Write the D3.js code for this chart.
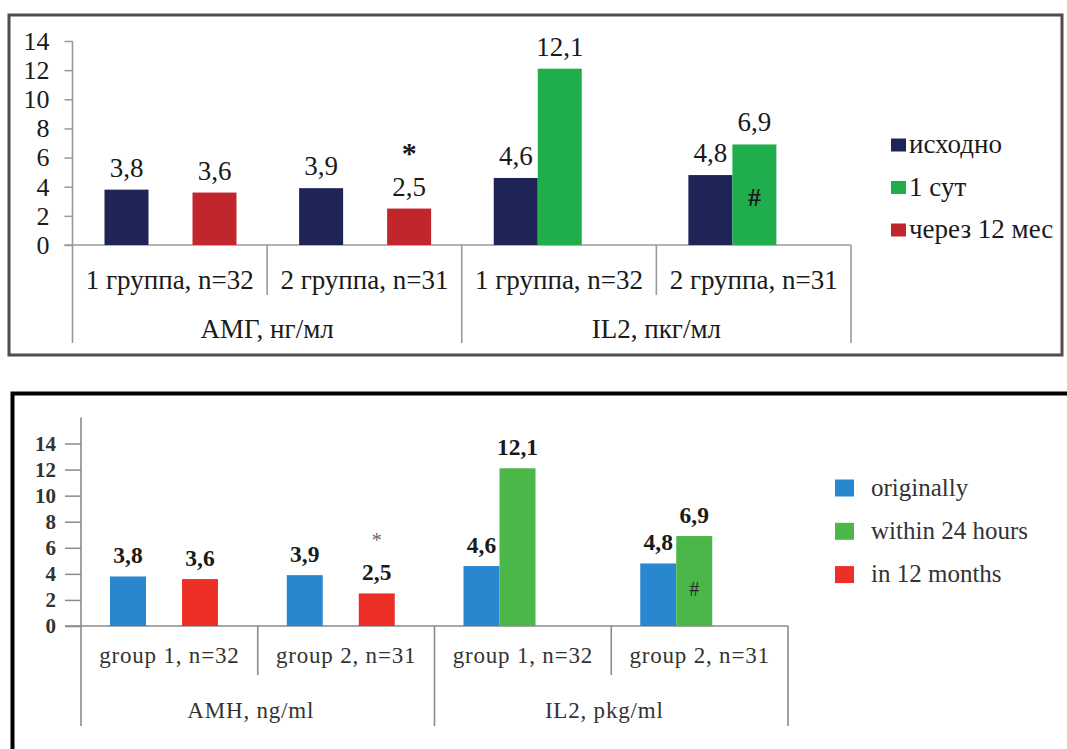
<!DOCTYPE html>
<html><head><meta charset="utf-8">
<script src="https://cdn.jsdelivr.net/npm/d3@7"></script>
</head><body style="margin:0;background:#fff">
<svg id="c" width="1067" height="749" style="display:block;font-family:'Liberation Serif'"></svg>
<script>
// ---------- data ----------
const categoriesRu = ["1 группа, n=32", "2 группа, n=31", "1 группа, n=32", "2 группа, n=31"];
const groupsRu = ["АМГ, нг/мл", "IL2, пкг/мл"];
const seriesRu = ["исходно", "1 сут", "через 12 мес"];
const categoriesEn = ["group 1, n=32", "group 2, n=31", "group 1, n=32", "group 2, n=31"];
const groupsEn = ["AMH, ng/ml", "IL2, pkg/ml"];
const seriesEn = ["originally", "within 24 hours", "in 12 months"];
const valuesBaseline = [3.8, 3.9, 4.6, 4.8];
const values24h = [null, null, 12.1, 6.9];
const values12m = [3.6, 2.5, null, null];
const yTicks = [0, 2, 4, 6, 8, 10, 12, 14];
const starMark = {category: 1, series: 2, text: "*"};
const hashMark = {category: 3, series: 1, text: "#"};

const seriesValues = [valuesBaseline, values24h, values12m];
const fmt = v => d3.format(".1f")(v).replace(".", ",");
const svg = d3.select("#c");
const SERIF = "Liberation Serif";

function txt(sel) { return sel.style("font-family", SERIF); }

function draw(o) {
  const g = svg.append("g");
  // frame
  g.append("rect").attr("x", o.frame[0]).attr("y", o.frame[1])
    .attr("width", o.frame[2]).attr("height", o.frame[3])
    .attr("fill", "none").attr("stroke", o.frameColor).attr("stroke-width", o.frameWidth);

  const x = d3.scaleBand().domain(d3.range(o.categories.length)).range([o.x0, o.x1]);
  const xi = d3.scaleBand().domain(d3.range(3)).range(o.inner);
  const y = d3.scaleLinear().domain([0, 14]).range([o.y0, o.y14]);

  // y axis
  const ax = g.append("g").attr("transform", `translate(${o.x0},0)`)
    .call(d3.axisLeft(y).tickValues(yTicks).tickSize(o.tickLen).tickSizeOuter(0).tickPadding(o.tickPad));
  ax.attr("font-family", null).attr("font-size", null);
  ax.select(".domain").remove();
  ax.selectAll(".tick line").attr("stroke", o.axisColor).attr("stroke-width", 1.5);
  txt(ax.selectAll(".tick text")).attr("font-size", o.tickFont)
    .attr("font-weight", o.tickWeight).attr("fill", o.textColor);

  const line = (x1, y1, x2, y2) => g.append("line").attr("x1", x1).attr("y1", y1)
    .attr("x2", x2).attr("y2", y2).attr("stroke", o.axisColor).attr("stroke-width", 1.6);
  line(o.x0, y(o.yAxisTop), o.x0, o.longEnd);
  line(o.x0 - o.tickLen, o.y0, o.x1, o.y0);
  o.categories.forEach((c, i) => {
    if (i === 0) return;
    line(x(i), o.y0, x(i), i % 2 === 0 ? o.longEnd : o.shortEnd);
  });
  line(o.x1, o.y0, o.x1, o.longEnd);

  // category labels
  txt(g.selectAll(".cat").data(o.categories).join("text"))
    .attr("x", (d, i) => x(i) + x.bandwidth() / 2).attr("y", o.catY)
    .attr("text-anchor", "middle").attr("font-size", o.catFont)
    .attr("letter-spacing", o.catSpacing).attr("fill", o.textColor).text(d => d);
  txt(g.selectAll(".grp").data(o.groups).join("text"))
    .attr("x", (d, i) => x(2 * i) + x.bandwidth() + o.grpDx).attr("y", o.grpY)
    .attr("text-anchor", "middle").attr("font-size", o.catFont)
    .attr("letter-spacing", o.catSpacing).attr("fill", o.textColor).text(d => d);

  // bars
  const bars = [];
  seriesValues.forEach((vals, s) => vals.forEach((v, c) => { if (v != null) bars.push({s, c, v}); }));
  g.selectAll(".bar").data(bars).join("rect")
    .attr("x", d => x(d.c) + xi(d.s)).attr("width", xi.bandwidth())
    .attr("y", d => y(d.v)).attr("height", d => y(0) - y(d.v))
    .attr("fill", d => o.colors[d.s]);
  txt(g.selectAll(".val").data(bars).join("text"))
    .attr("x", d => x(d.c) + xi(d.s) + xi.bandwidth() / 2)
    .attr("y", d => y(d.v) - o.labelGap)
    .attr("text-anchor", "middle").attr("font-size", o.valFont).attr("font-weight", o.valWeight)
    .attr("fill", o.valColor).text(d => fmt(d.v));

  // significance marks
  const vs = seriesValues[starMark.series][starMark.category];
  txt(g.append("text")).attr("x", x(starMark.category) + xi(starMark.series) + xi.bandwidth() / 2)
    .attr("y", y(vs) - o.starGap).attr("text-anchor", "middle").attr("font-size", o.starFont)
    .attr("font-weight", o.starWeight).attr("fill", o.starColor).text(starMark.text);
  const vh = seriesValues[hashMark.series][hashMark.category];
  txt(g.append("text")).attr("x", x(hashMark.category) + xi(hashMark.series) + xi.bandwidth() / 2)
    .attr("y", (y(vh) + y(0)) / 2 + o.hashDy).attr("text-anchor", "middle").attr("font-size", o.hashFont)
    .attr("font-weight", o.hashWeight).attr("fill", o.hashColor).text(hashMark.text);

  // legend
  const lg = g.append("g");
  o.series.forEach((name, i) => {
    const cy = o.legY + i * o.legStep;
    lg.append("rect").attr("x", o.legX).attr("y", cy - o.legSq[1] / 2)
      .attr("width", o.legSq[0]).attr("height", o.legSq[1]).attr("fill", o.colors[i]);
    txt(lg.append("text")).attr("x", o.legTextX).attr("y", cy + o.legFont * 0.3)
      .attr("font-size", o.legFont).attr("fill", o.textColor).text(name);
  });
}

draw({
  frame: [9, 15, 1053, 340], frameColor: "#4d4d4d", frameWidth: 3,
  categories: categoriesRu, groups: groupsRu, series: seriesRu,
  colors: ["#1f2457", "#1fae4b", "#c1262d"],
  x0: 72.5, x1: 851, y0: 245, y14: 41, yAxisTop: 14, inner: [32, 164],
  tickLen: 8, tickPad: 15, tickFont: 26, tickWeight: "normal",
  axisColor: "#9a9a9a", textColor: "#1a1a1a",
  shortEnd: 295, longEnd: 343, catY: 289, grpY: 338, grpDx: 0, catFont: 27, catSpacing: 0,
  labelGap: 13, valFont: 27, valWeight: "normal", valColor: "#1a1a1a",
  starFont: 30, starWeight: "bold", starColor: "#1a1a1a", starGap: 46,
  hashFont: 26, hashWeight: "bold", hashColor: "#1a1a1a", hashDy: 11,
  legX: 891, legSq: [15, 13], legY: 145, legStep: 42.5, legTextX: 909, legFont: 27
});

draw({
  frame: [12.5, 393.5, 1100, 420], frameColor: "#000", frameWidth: 4,
  categories: categoriesEn, groups: groupsEn, series: seriesEn,
  colors: ["#2987d0", "#4ab748", "#ec2f27"],
  x0: 81, x1: 788, y0: 626, y14: 443.5, yAxisTop: 16, inner: [29, 137],
  tickLen: 16, tickPad: 9, tickFont: 21, tickWeight: "bold",
  axisColor: "#8a8a8a", textColor: "#333",
  shortEnd: 675, longEnd: 726, catY: 663, grpY: 718, grpDx: -7, catFont: 23, catSpacing: 0.8,
  labelGap: 13, valFont: 23.5, valWeight: "bold", valColor: "#1a1a1a",
  starFont: 20, starWeight: "normal", starColor: "#666", starGap: 46,
  hashFont: 20, hashWeight: "normal", hashColor: "#2a2a2a", hashDy: 15,
  legX: 835, legSq: [19, 17], legY: 488, legStep: 43.3, legTextX: 871, legFont: 25
});
</script>
</body></html>
